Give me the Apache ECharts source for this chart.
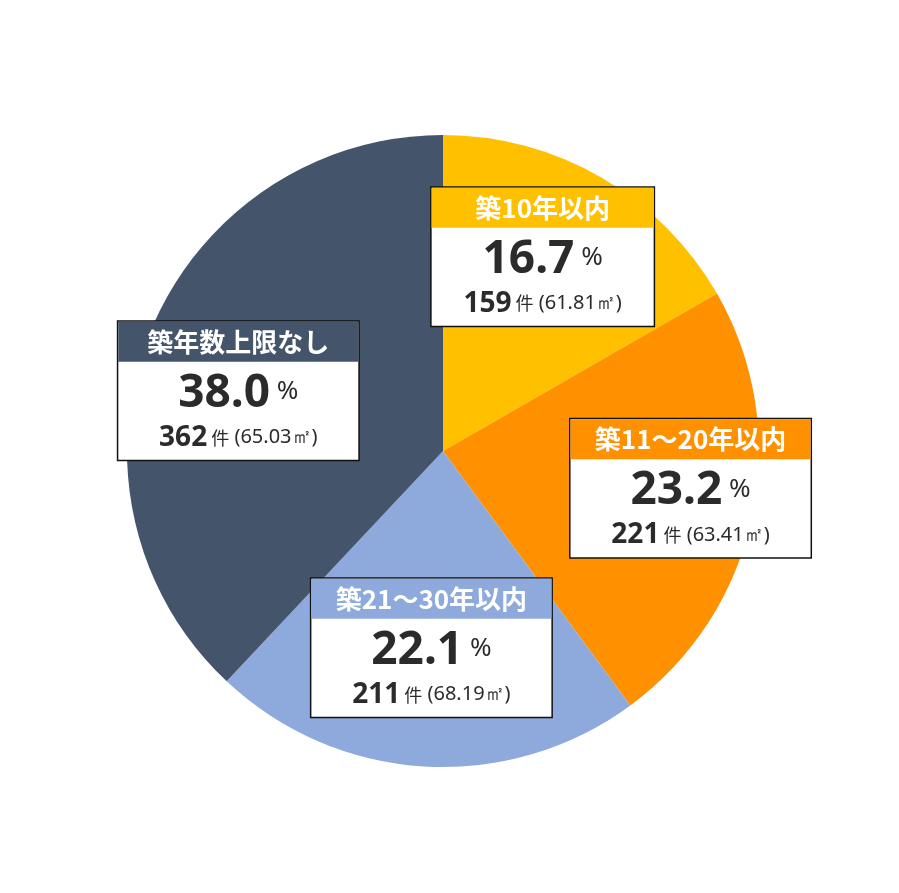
<!DOCTYPE html><html><head><meta charset="utf-8">
<script src="https://cdn.jsdelivr.net/npm/echarts@6/dist/echarts.min.js"></script>
<style>html,body{margin:0;background:#fff}#c{width:899px;height:893px}</style></head><body><div id="c"></div>
<script>
const categories=['築10年以内','築11～20年以内','築21～30年以内','築年数上限なし'];
const percents=[16.7,23.2,22.1,38.0];
const counts=[159,221,211,362];
const areas=['61.81','63.41','68.19','65.03'];
const colors=['#FFC000','#FF9100','#8EA9DB','#44546A'];
const offsets=[[19,-55],[90,4],[-2,36],[-55,-1]];
const widths=[222,240,240,240];
const data=categories.map((c,i)=>({name:c,value:percents[i],itemStyle:{color:colors[i]},
 label:{offset:offsets[i],rich:{h:{backgroundColor:colors[i],width:widths[i],height:40,color:'#fff',fontSize:26,fontWeight:'bold',align:'center',fontFamily:'Noto Sans CJK JP'}}}}));
const chart=echarts.init(document.getElementById('c'));
chart.setOption({animation:false,series:[{type:'pie',center:[443,451],radius:316,startAngle:90,clockwise:true,
 data,labelLine:{show:false},
 label:{position:'inside',backgroundColor:'#fff',borderColor:'#111',borderWidth:1.5,padding:[0,0,6,0],align:'center',
  formatter:p=>{const i=p.dataIndex;return `{h|${categories[i]}}\n{v|${percents[i].toFixed(1)}}{p| %}\n{n|${counts[i]}}{k| 件}{a| (${areas[i]}㎡)}`;},
  rich:{v:{fontSize:46,fontWeight:'bold',color:'#2b2b2b',fontFamily:'Noto Sans',height:56,padding:[4,0,0,0]},
   p:{fontSize:26,color:'#2b2b2b',fontFamily:'Noto Sans'},
   n:{fontSize:28,fontWeight:'bold',color:'#2b2b2b',fontFamily:'Noto Sans',height:32},
   k:{fontSize:18,color:'#2b2b2b',fontFamily:'Noto Sans CJK JP'},
   a:{fontSize:20,color:'#2b2b2b',fontFamily:'Noto Sans'}}}}]});
</script></body></html>
